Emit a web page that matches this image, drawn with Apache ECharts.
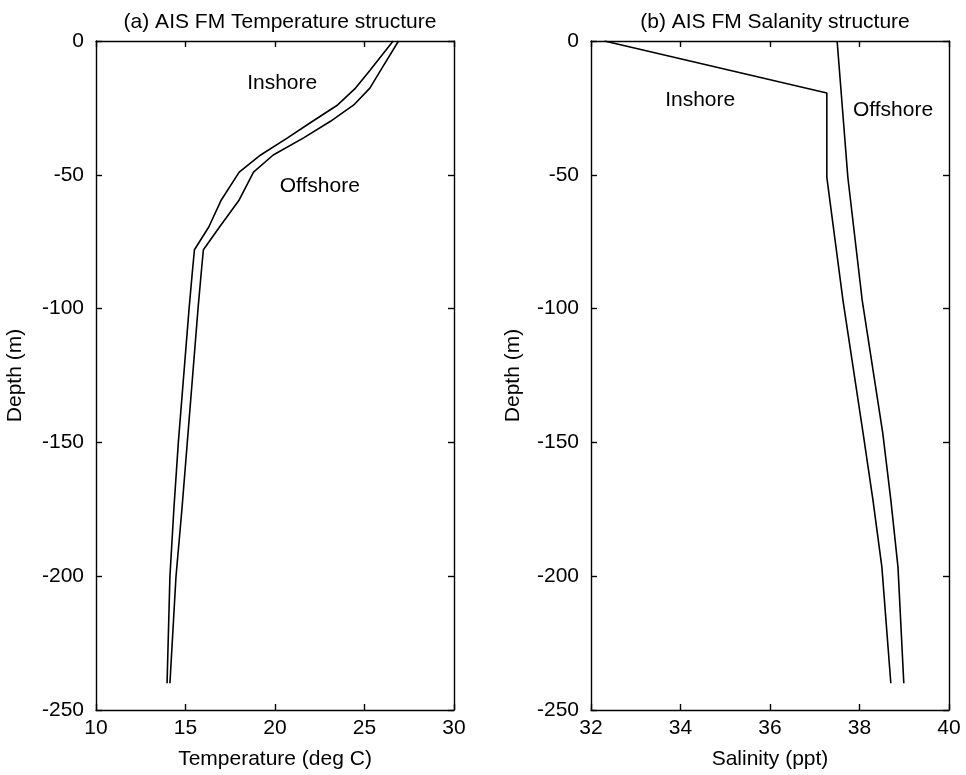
<!DOCTYPE html>
<html><head><meta charset="utf-8">
<script src="https://cdn.jsdelivr.net/npm/echarts@6/dist/echarts.min.js"></script>
<style>html,body{margin:0;padding:0;background:#fff}#c{width:966px;height:775px}</style>
</head><body><div id="c"></div>
<script>
// Temperature profiles: [temperature degC, depth m]
const tempInshore = [[26.6,0],[25.3,-11],[24.5,-17.6],[23.5,-23.9],[22.1,-30],[20.7,-36.2],[19.2,-42.6],[18.0,-49],[17.0,-59.4],[16.3,-69.5],[15.5,-78],[15.4,-85],[15.2,-100],[14.9,-125],[14.6,-150],[14.35,-175],[14.13,-200],[14.05,-220],[13.97,-240]];
const tempOffshore = [[26.9,0],[25.9,-11],[25.3,-17.6],[24.4,-23.9],[23.1,-30],[21.6,-36.2],[19.9,-42.6],[18.8,-49],[18.0,-59.4],[16.9,-69.5],[16.0,-78],[15.9,-85],[15.7,-100],[15.4,-125],[15.1,-150],[14.8,-175],[14.47,-200],[14.3,-220],[14.13,-240]];
// Salinity profiles: [salinity ppt, depth m]
const salInshore = [[32.3,0],[37.27,-19.4],[37.27,-51],[37.63,-96.8],[38.08,-146.5],[38.3,-171.5],[38.5,-196.6],[38.70,-240]];
const salOffshore = [[37.5,0],[37.74,-51],[38.06,-96.8],[38.52,-146.5],[38.70,-171.5],[38.86,-196.6],[38.99,-240]];
// Curve labels: [x, depth, text]
const tempLabels = [[20.4,-15.7,'Inshore'],[22.5,-54.2,'Offshore']];
const salLabels = [[34.44,-22,'Inshore'],[38.75,-25.8,'Offshore']];
const titles = ['(a) AIS FM Temperature structure','(b) AIS FM Salanity structure'];
const xNames = ['Temperature (deg C)','Salinity (ppt)'];
const yName = 'Depth (m)';

const FONT = 'Liberation Sans, Arial, Helvetica, sans-serif';
const txt = {color:'#000', fontFamily:FONT, fontSize:21};
const grids = [
  {left:96, top:41, width:358, height:669},
  {left:591, top:41, width:358, height:669}
];
const yNameGaps = [70, 67];
const xr = [{min:10,max:30,interval:5},{min:32,max:40,interval:2}];
const lineStyle = {color:'#000', width:1.4};
const xAxes = [], yAxes = [];
for (let i=0;i<2;i++){
  xAxes.push({type:'value', gridIndex:i, position:'bottom', min:xr[i].min, max:xr[i].max, interval:xr[i].interval,
    name:xNames[i], nameLocation:'middle', nameGap:39, nameTextStyle:txt,
    axisLine:{show:true,onZero:false,lineStyle}, axisTick:{show:true,inside:true,length:6,lineStyle},
    axisLabel:Object.assign({margin:8},txt), splitLine:{show:false}});
  xAxes.push({type:'value', gridIndex:i, position:'top', min:xr[i].min, max:xr[i].max, interval:xr[i].interval,
    axisLine:{show:true,onZero:false,lineStyle}, axisTick:{show:true,inside:true,length:6,lineStyle},
    axisLabel:{show:false}, splitLine:{show:false}});
  yAxes.push({type:'value', gridIndex:i, position:'left', min:-250, max:0, interval:50,
    name:yName, nameLocation:'middle', nameGap:yNameGaps[i], nameRotate:90, nameTextStyle:txt,
    axisLine:{show:true,onZero:false,lineStyle}, axisTick:{show:true,inside:true,length:6,lineStyle},
    axisLabel:Object.assign({margin:12},txt), splitLine:{show:false}});
  yAxes.push({type:'value', gridIndex:i, position:'right', min:-250, max:0, interval:50,
    axisLine:{show:true,onZero:false,lineStyle}, axisTick:{show:true,inside:true,length:6,lineStyle},
    axisLabel:{show:false}, splitLine:{show:false}});
}
function line(data, g){
  return {type:'line', xAxisIndex:g*2, yAxisIndex:g*2, data, showSymbol:false, symbol:'none',
    lineStyle:{color:'#000', width:1.6}, animation:false, silent:true};
}
function labels(arr, g){
  return {type:'scatter', xAxisIndex:g*2, yAxisIndex:g*2, symbolSize:1, itemStyle:{color:'rgba(0,0,0,0)'},
    data:arr.map(a=>({value:[a[0],a[1]], name:a[2]})),
    label:Object.assign({show:true, position:'inside', formatter:p=>p.name, textBorderWidth:0, opacity:1}, txt),
    animation:false, silent:true};
}
const chart = echarts.init(document.getElementById('c'), null, {renderer:'canvas'});
chart.setOption({
  backgroundColor:'#fff',
  animation:false,
  title: titles.map((t,i)=>({text:t, left:grids[i].left+grids[i].width/2, top:7, textAlign:'center',
    textStyle:Object.assign({fontWeight:'normal'},txt)})),
  grid: grids,
  xAxis: xAxes,
  yAxis: yAxes,
  series:[line(tempInshore,0), line(tempOffshore,0), line(salInshore,1), line(salOffshore,1),
          labels(tempLabels,0), labels(salLabels,1)]
});
</script></body></html>
